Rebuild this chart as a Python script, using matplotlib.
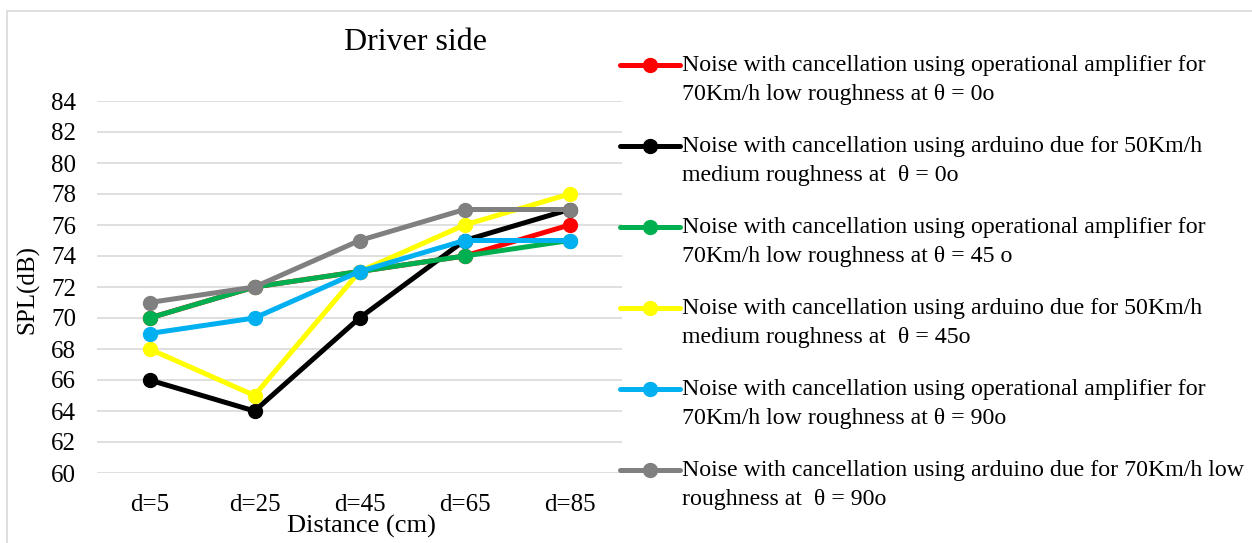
import matplotlib
matplotlib.use('Agg')
import matplotlib.pyplot as plt
from matplotlib.lines import Line2D
from matplotlib.patches import Rectangle

# ----- Data -----
categories = ['d=5', 'd=25', 'd=45', 'd=65', 'd=85']

opamp_70_low_0 = [70, 72, 73, 74, 76]
arduino_50_med_0 = [66, 64, 70, 75, 77]
opamp_70_low_45 = [70, 72, 73, 74, 75]
arduino_50_med_45 = [68, 65, 73, 76, 78]
opamp_70_low_90 = [69, 70, 73, 75, 75]
arduino_70_low_90 = [71, 72, 75, 77, 77]

labels = [
    'Noise with cancellation using operational amplifier for\n70Km/h low roughness at \u03b8 = 0o',
    'Noise with cancellation using arduino due for 50Km/h\nmedium roughness at  \u03b8 = 0o',
    'Noise with cancellation using operational amplifier for\n70Km/h low roughness at \u03b8 = 45 o',
    'Noise with cancellation using arduino due for 50Km/h\nmedium roughness at  \u03b8 = 45o',
    'Noise with cancellation using operational amplifier for\n70Km/h low roughness at \u03b8 = 90o',
    'Noise with cancellation using arduino due for 70Km/h low\nroughness at  \u03b8 = 90o',
]
series = [opamp_70_low_0, arduino_50_med_0, opamp_70_low_45,
          arduino_50_med_45, opamp_70_low_90, arduino_70_low_90]
colors = ['#FF0000', '#000000', '#00B050', '#FFFF00', '#00B0F0', '#808080']

y_ticks = list(range(60, 85, 2))

# ----- Plotting -----
plt.rcParams['font.family'] = ['Liberation Serif', 'DejaVu Serif']

W, H = 1252, 543
fig = plt.figure(figsize=(W / 100, H / 100), dpi=100)

def fx(px):
    return px / W

def fy(py):
    return 1 - py / H

# light chart border (cut off at right and bottom)
fig.add_artist(Rectangle((fx(7), fy(560)), fx(1300) - fx(7), fy(11) - fy(560),
                         transform=fig.transFigure, fill=False,
                         edgecolor='#d9d9d9', lw=1.2))

ax = fig.add_axes([fx(97), fy(473), fx(622) - fx(97), fy(101) - fy(473)])

x = list(range(len(categories)))
for vals, col in zip(series, colors):
    ax.plot(x, vals, color=col, lw=3.6, marker='o', markersize=10,
            solid_capstyle='round', clip_on=False)

ax.set_xlim(-0.5, len(categories) - 0.5)
ax.set_ylim(60, 84)
ax.set_yticks(y_ticks)
ax.set_xticks(x)
ax.set_xticklabels(categories)
ax.grid(axis='y', color='#d9d9d9', lw=1.2)
ax.set_axisbelow(True)
for s in ax.spines.values():
    s.set_visible(False)
ax.tick_params(axis='both', length=0, labelsize=18)
ax.tick_params(axis='y', pad=15)
ax.tick_params(axis='x', pad=15)

fig.text(fx(28), fy(290), 'SPL(dB)', rotation=90, fontsize=18,
         ha='center', va='center')
fig.text(fx(361), fy(526), 'Distance (cm)', fontsize=19,
         ha='center', va='center')
fig.text(fx(415), fy(42), 'Driver side', fontsize=23,
         ha='center', va='center')

# legend, handles aligned with the first text line
entry_y = [65, 146, 227, 308, 389, 470]
for lab, col, yy in zip(labels, colors, entry_y):
    fig.add_artist(Line2D([fx(620), fx(680)], [fy(yy), fy(yy)],
                          transform=fig.transFigure, color=col, lw=3.6,
                          solid_capstyle='round'))
    fig.add_artist(Line2D([fx(650)], [fy(yy)], transform=fig.transFigure,
                          color=col, marker='o', markersize=10))
    fig.text(fx(682), fy(yy - 10), lab, fontsize=17.2, ha='left', va='top',
             linespacing=1.5)

fig.savefig('out.png', dpi=100)
